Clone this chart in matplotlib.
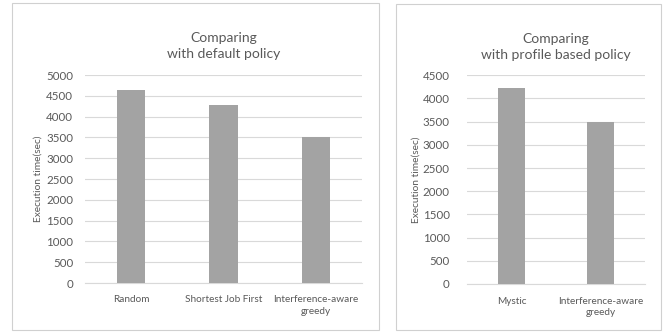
import matplotlib.pyplot as plt
from matplotlib.patches import Rectangle

# data
left_cats = ["Random", "Shortest Job First", "Interference-aware\ngreedy"]
left_vals = [4650, 4270, 3510]
right_cats = ["Mystic", "Interference-aware\ngreedy"]
right_vals = [4220, 3500]

bar_color = "#a3a3a3"
grid_color = "#d9d9d9"
text_color = "#595959"

plt.rcParams['font.family'] = ['Lato', 'DejaVu Sans']

fig = plt.figure(figsize=(6.71, 3.36), dpi=100)
W, H = 671, 336

def px_rect(x0, y0, x1, y1):
    # pixel box (top-left origin) -> figure fraction
    return [x0 / W, 1 - y1 / H, (x1 - x0) / W, (y1 - y0) / H]

# panel frames
for (x0, y0, x1, y1) in [(12, 3, 379, 330), (396, 4, 661, 330)]:
    b = px_rect(x0, y0, x1, y1)
    fig.patches.append(Rectangle((b[0], b[1]), b[2], b[3], transform=fig.transFigure,
                                 fill=False, edgecolor="#d0d0d0", linewidth=0.8))


def draw(ax, cats, vals, ymax, title, ypad, lpad):
    x = range(len(cats))
    ax.bar(x, vals, width=0.31, color=bar_color, zorder=3)
    ax.set_xlim(-0.5, len(cats) - 0.5)
    ax.set_ylim(0, ymax)
    ax.set_yticks(range(0, ymax + 1, 500))
    ax.set_xticks(list(x))
    ax.set_xticklabels(cats, fontsize=7.2, color=text_color, linespacing=1.3)
    ax.tick_params(axis='y', labelsize=8.3, colors=text_color, length=0, pad=ypad)
    ax.tick_params(axis='x', length=0, pad=9)
    ax.yaxis.grid(True, color=grid_color, linewidth=0.8, zorder=0)
    for s in ["top", "right", "left"]:
        ax.spines[s].set_visible(False)
    ax.spines["bottom"].set_color(grid_color)
    ax.set_ylabel("Execution time(sec)", fontsize=7.3, color=text_color, labelpad=lpad)
    ax.set_title(title, fontsize=10, color=text_color, pad=12, linespacing=1.4)


ax1 = fig.add_axes(px_rect(85, 75, 362, 283))
draw(ax1, left_cats, left_vals, 5000, "Comparing\nwith default policy", 8.5, 2.5)

ax2 = fig.add_axes(px_rect(467, 75.3, 645, 284))
draw(ax2, right_cats, right_vals, 4500, "Comparing\nwith profile based policy", 12.5, 1.5)

fig.savefig("out.png", dpi=100)
